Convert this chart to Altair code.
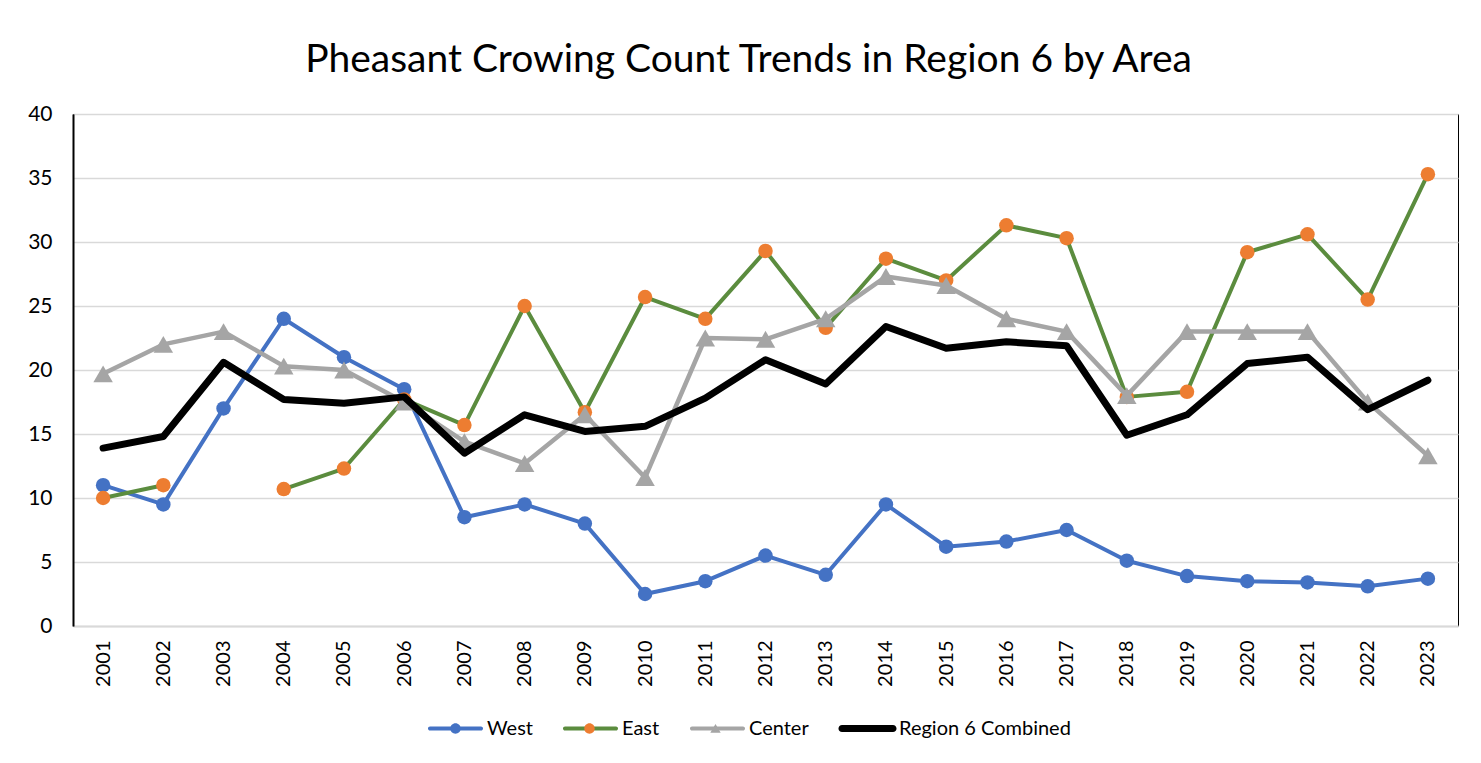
import altair as alt
import pandas as pd

# ---------------- data ----------------
years = ["2001", "2002", "2003", "2004", "2005", "2006", "2007", "2008", "2009", "2010",
         "2011", "2012", "2013", "2014", "2015", "2016", "2017", "2018", "2019", "2020",
         "2021", "2022", "2023"]
series_names = ["West", "East", "Center", "Region 6 Combined"]
marker_series = ["West", "East", "Center"]
west = [11.0, 9.5, 17.0, 24.0, 21.0, 18.5, 8.5, 9.5, 8.0, 2.5, 3.5, 5.5, 4.0, 9.5,
        6.2, 6.6, 7.5, 5.1, 3.9, 3.5, 3.4, 3.1, 3.7]
east = [10.0, 11.0, None, 10.7, 12.3, 17.7, 15.7, 25.0, 16.7, 25.7, 24.0, 29.3, 23.3, 28.7,
        27.0, 31.3, 30.3, 17.9, 18.3, 29.2, 30.6, 25.5, 35.3]
center = [19.7, 22.0, 23.0, 20.3, 20.0, 17.5, 14.4, 12.7, 16.5, 11.6, 22.5, 22.4, 24.0, 27.3,
          26.6, 24.0, 23.0, 18.0, 23.0, 23.0, 23.0, 17.5, 13.3]
combined = [13.9, 14.8, 20.6, 17.7, 17.4, 17.9, 13.5, 16.5, 15.2, 15.6, 17.8, 20.8, 18.9, 23.4,
            21.7, 22.2, 21.9, 14.9, 16.5, 20.5, 21.0, 16.9, 19.2]
y_ticks = [0, 5, 10, 15, 20, 25, 30, 35, 40]

# ---------------- styles ----------------
BLUE = "#4472C4"
ORANGE = "#ED7D31"
GREEN = "#5B8C3E"
GRAY = "#A5A5A5"
BLACK = "#000000"
FONT = "Lato"


def series_frame(vals):
    rows, seg = [], 0
    for yr, v in zip(years, vals):
        if v is None:
            seg += 1
            continue
        rows.append({"year": yr, "value": v, "seg": seg})
    return pd.DataFrame(rows)


X = alt.X("year:O", title=None,
          scale=alt.Scale(domain=years, padding=0.5),
          axis=alt.Axis(labelAngle=-90, labelFont=FONT, labelFontSize=20, labelColor="#000",
                        labelPadding=14, ticks=False, tickSize=0, grid=False,
                        domainColor="#D9D9D9", domainWidth=2))
Y = alt.Y("value:Q", title=None,
          scale=alt.Scale(domain=[0, 40], nice=False, zero=True),
          axis=alt.Axis(values=y_ticks, labelFont=FONT, labelFontSize=21, labelColor="#000",
                        labelPadding=21, ticks=False, tickSize=0, grid=True,
                        gridColor="#D9D9D9", gridWidth=1.5,
                        domainColor="#000", domainWidth=2))


def line_layer(vals, color, width):
    return alt.Chart(series_frame(vals)).mark_line(
        color=color, strokeWidth=width, strokeCap="round", strokeJoin="round"
    ).encode(x=X, y=Y, detail="seg:N")


def marker_layer(vals, color, shape, size):
    return alt.Chart(series_frame(vals)).mark_point(
        filled=True, color=color, shape=shape, size=size, opacity=1, strokeWidth=0
    ).encode(x=X, y=Y)


# ---------------- legend (two overlaid legends: lines + markers) ----------------
BOUND = "M-1,-1 L-1,-1 M1,1 L1,1 "


def capsule(h):
    return (BOUND + f"M-0.93,-{h} L0.93,-{h} A{h},{h} 0 0 1 0.93,{h} "
            f"L-0.93,{h} A{h},{h} 0 0 1 -0.93,-{h} Z")


line_paths = [capsule(0.075), capsule(0.075), capsule(0.075), capsule(0.13)]
circle_path = BOUND + "M0.19,0 A0.19,0.19 0 1 1 -0.19,0 A0.19,0.19 0 1 1 0.19,0 Z"
tri_path = BOUND + "M0,-0.17 L0.19,0.15 L-0.19,0.15 Z"
marker_paths = [circle_path, circle_path, tri_path]

legend_df = pd.DataFrame({"series": series_names})
marker_df = pd.DataFrame({"mseries": marker_series})

common_legend = dict(orient="none", legendX=355, legendY=587, direction="horizontal",
                     title=None, symbolSize=3000, symbolStrokeWidth=0,
                     symbolOffset=0, labelFont=FONT, labelFontSize=20, labelColor="#000",
                     labelOffset=4, columnPadding=29, padding=0, symbolOpacity=1,
                     labelLimit=600)

legA = alt.Legend(labelOpacity=1, columns=4, **common_legend)
legB = alt.Legend(labelOpacity=0, columns=3, **common_legend)

legend_lines = alt.Chart(legend_df).transform_filter("false").mark_point(
    filled=True, opacity=1, strokeWidth=0
).encode(
    shape=alt.Shape("series:N", scale=alt.Scale(domain=series_names, range=line_paths), legend=legA),
    fill=alt.Fill("series:N", scale=alt.Scale(domain=series_names, range=[BLUE, GREEN, GRAY, BLACK]),
                  legend=legA),
)

legend_marks = alt.Chart(marker_df).transform_filter("false").mark_point(
    filled=True, opacity=1, strokeWidth=0
).encode(
    shape=alt.Shape("mseries:N", scale=alt.Scale(domain=marker_series, range=marker_paths),
                    legend=legB),
    fill=alt.Fill("mseries:N", scale=alt.Scale(domain=marker_series, range=[BLUE, ORANGE, GRAY]),
                  legend=legB),
)

layers = [
    line_layer(west, BLUE, 4),
    marker_layer(west, BLUE, "circle", 210),
    line_layer(east, GREEN, 4),
    marker_layer(east, ORANGE, "circle", 210),
    line_layer(center, GRAY, 4.5),
    marker_layer(center, GRAY, "triangle-up", 380),
    line_layer(combined, BLACK, 7),
    legend_lines,
    legend_marks,
]

chart = alt.layer(*layers).resolve_scale(
    shape="independent", fill="independent"
).properties(
    width=1385,
    height=512,
    autosize=alt.AutoSizeParams(type="none"),
    padding={"left": 65, "top": 106, "right": 15, "bottom": 120},
    background="#FFFFFF",
    title=alt.TitleParams(
        text="Pheasant Crowing Count Trends in Region 6 by Area",
        font=FONT, fontSize=39, fontWeight="normal", color="#000",
        anchor="middle", frame="group", baseline="alphabetic", offset=44, dx=-17, dy=52,
    ),
).configure_view(
    stroke="#000", strokeWidth=1
)

chart.save("out.html", embed_options={"renderer": "svg", "actions": False})
